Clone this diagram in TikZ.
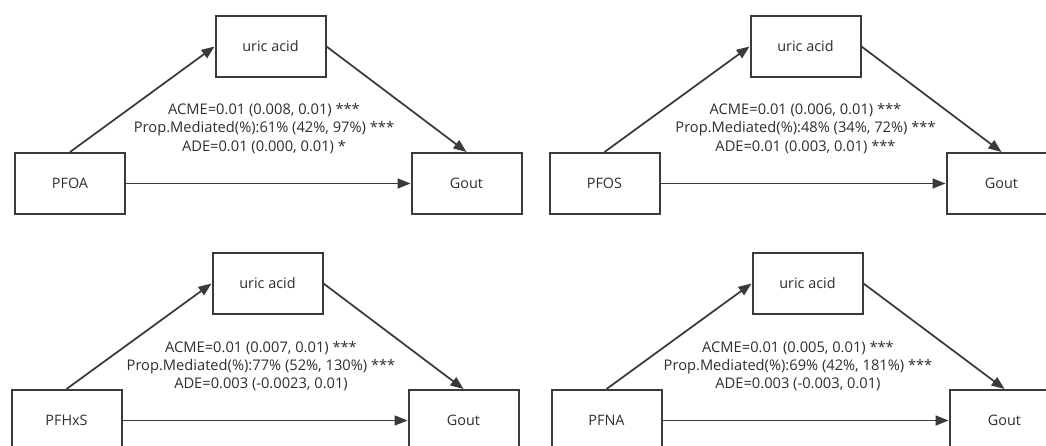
\documentclass[tikz,border=0pt]{standalone}
\usepackage{fontspec}
\setmainfont{Open Sans}
\usetikzlibrary{arrows.meta}
\definecolor{ln}{HTML}{3A3A3A}
\definecolor{tx}{HTML}{2E2E2E}
\begin{document}
\begin{tikzpicture}[x=0.75pt,y=-0.75pt,
 box/.style={draw=ln,line width=1.5pt,minimum width=82.5pt,minimum height=45.75pt,inner sep=0pt,font=\fontsize{10.8}{12}\selectfont,text=tx},
 arr/.style={draw=ln,line width=1.3pt,-{Triangle[length=9.75pt,width=7.5pt]}},
 lab/.style={align=center,font=\fontsize{11}{13.7}\selectfont,text=tx,inner sep=0pt}]
\useasboundingbox (0,0) rectangle (1046,446);
\clip (0,0) rectangle (1046,446);
\fill[white] (0,0) rectangle (1046,446);
% panel 1
\node[box] (x1) at (70,183.5) {PFOA};
\node[box] (m1) at (270.5,46.5) {uric acid};
\node[box] (y1) at (466.5,183.5) {Gout};
\draw[arr] (x1.north) -- (m1.west);
\draw[arr] (m1.east) -- (y1.north);
\draw[arr] (x1.east) -- (y1.west);
\node[lab] (t1) at (264,128.5) {ACME=0.01 (0.008, 0.01) ***\\Prop.Mediated(\%):61\% (42\%, 97\%) ***\\ADE=0.01 (0.000, 0.01) *};
% panel 2
\node[box] (x2) at (604.5,183.5) {PFOS};
\node[box] (m2) at (805.5,46.5) {uric acid};
\node[box] (y2) at (1001.5,183.5) {Gout};
\draw[arr] (x2.north) -- (m2.west);
\draw[arr] (m2.east) -- (y2.north);
\draw[arr] (x2.east) -- (y2.west);
\node[lab] (t2) at (805.5,128.5) {ACME=0.01 (0.006, 0.01) ***\\Prop.Mediated(\%):48\% (34\%, 72\%) ***\\ADE=0.01 (0.003, 0.01) ***};
% panel 3
\node[box] (x3) at (66.5,420.5) {PFHxS};
\node[box] (m3) at (267.5,283.5) {uric acid};
\node[box] (y3) at (463.5,420.5) {Gout};
\draw[arr] (x3.north) -- (m3.west);
\draw[arr] (m3.east) -- (y3.north);
\draw[arr] (x3.east) -- (y3.west);
\node[lab] (t3) at (261,366) {ACME=0.01 (0.007, 0.01) ***\\Prop.Mediated(\%):77\% (52\%, 130\%) ***\\ADE=0.003 (-0.0023, 0.01)};
% panel 4
\node[box] (x4) at (606.5,420.5) {PFNA};
\node[box] (m4) at (807.5,283.5) {uric acid};
\node[box] (y4) at (1004.5,420.5) {Gout};
\draw[arr] (x4.north) -- (m4.west);
\draw[arr] (m4.east) -- (y4.north);
\draw[arr] (x4.east) -- (y4.west);
\node[lab] (t4) at (798,366) {ACME=0.01 (0.005, 0.01) ***\\Prop.Mediated(\%):69\% (42\%, 181\%) ***\\ADE=0.003 (-0.003, 0.01)};
\end{tikzpicture}
\end{document}
